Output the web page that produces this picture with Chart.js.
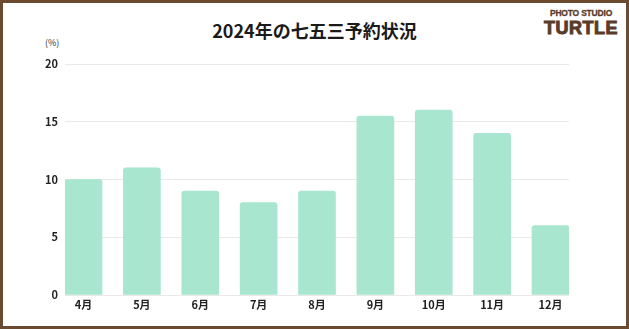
<!DOCTYPE html>
<html lang="ja">

<head>
    <meta charset="UTF-8">
    <title>2024年の七五三予約状況</title>
    <script src="https://cdn.jsdelivr.net/npm/chart.js@4.4.1/dist/chart.umd.min.js"></script>
    <style>
        html, body { margin: 0; padding: 0; background: #fff; }
        .frame {
            position: relative;
            width: 629px;
            height: 329px;
            box-sizing: border-box;
            border: 3px solid #6b4a32;
            overflow: hidden;
            font-family: "Noto Sans CJK JP", "Noto Sans", sans-serif;
        }
        .title {
            position: absolute;
            left: 0; right: 0; top: 14px;
            text-align: center;
            font-size: 18px;
            font-weight: bold;
            color: #1a1a1a;
        }
        .logo {
            position: absolute;
            left: 538px; width: 80px; top: 6px;
            text-align: center;
            color: #5a3b2a;
            font-family: "Liberation Sans", Arial, sans-serif;
            font-weight: bold;
            line-height: 1;
        }
        .logo .small { font-size: 8.5px; letter-spacing: -0.2px; -webkit-text-stroke: 0.3px #5a3b2a; }
        .logo .big { font-size: 18px; letter-spacing: 0.5px; margin-top: 1px; -webkit-text-stroke: 1px #5a3b2a; }
        .unit {
            position: absolute;
            left: 42px; top: 33px;
            font-size: 9px;
            color: #333;
        }
        canvas { position: absolute; left: -3px; top: -3px; }
    </style>
</head>

<body>
    <div class="frame">
        <div class="title">2024年の七五三予約状況</div>
        <div class="logo"><div class="small">PHOTO STUDIO</div><div class="big">TURTLE</div></div>
        <div class="unit">(%)</div>
        <canvas id="bookingChart" width="629" height="329"></canvas>
    </div>
    <script>
        // 月ごとの予約割合 (%)
        const months = ['4月', '5月', '6月', '7月', '8月', '9月', '10月', '11月', '12月'];
        const bookingRates = [10, 11, 9, 8, 9, 15.5, 16, 14, 6];
        const yTicks = [0, 5, 10, 15, 20];

        const tickFont = { family: '"Noto Sans CJK JP", sans-serif', size: 11, weight: 'bold' };

        var bookingChart = new Chart(document.getElementById('bookingChart').getContext('2d'), {
            type: 'bar',
            data: {
                datasets: [{
                    label: '予約状況',
                    data: bookingRates.map((v, i) => ({ x: i, y: v })),
                    backgroundColor: '#a8e6cf',
                    borderRadius: { topLeft: 3, topRight: 3 },
                    borderSkipped: 'bottom',
                    barThickness: 37
                }]
            },
            options: {
                responsive: false,
                animation: false,
                layout: { padding: { left: 35, right: 60, top: 64, bottom: 8 } },
                plugins: {
                    legend: { display: false },
                    tooltip: { enabled: false }
                },
                scales: {
                    x: {
                        type: 'linear',
                        offset: false,
                        min: -0.317,
                        max: 8.317,
                        grid: { display: false, drawTicks: false },
                        border: { display: false },
                        afterBuildTicks: (scale) => { scale.ticks = months.map((m, i) => ({ value: i })); },
                        afterFit: (scale) => { scale.height = 26; },
                        ticks: {
                            padding: 3,
                            color: '#222',
                            font: tickFont,
                            callback: (value) => months[value]
                        }
                    },
                    y: {
                        min: 0,
                        max: 20,
                        afterBuildTicks: (scale) => { scale.ticks = yTicks.map(v => ({ value: v })); },
                        afterFit: (scale) => { scale.width = 30; },
                        grid: { color: '#e9e9e9', drawTicks: false },
                        border: { display: false },
                        ticks: {
                            padding: 7,
                            color: '#222',
                            font: tickFont
                        }
                    }
                }
            }
        });
    </script>
</body>

</html>
